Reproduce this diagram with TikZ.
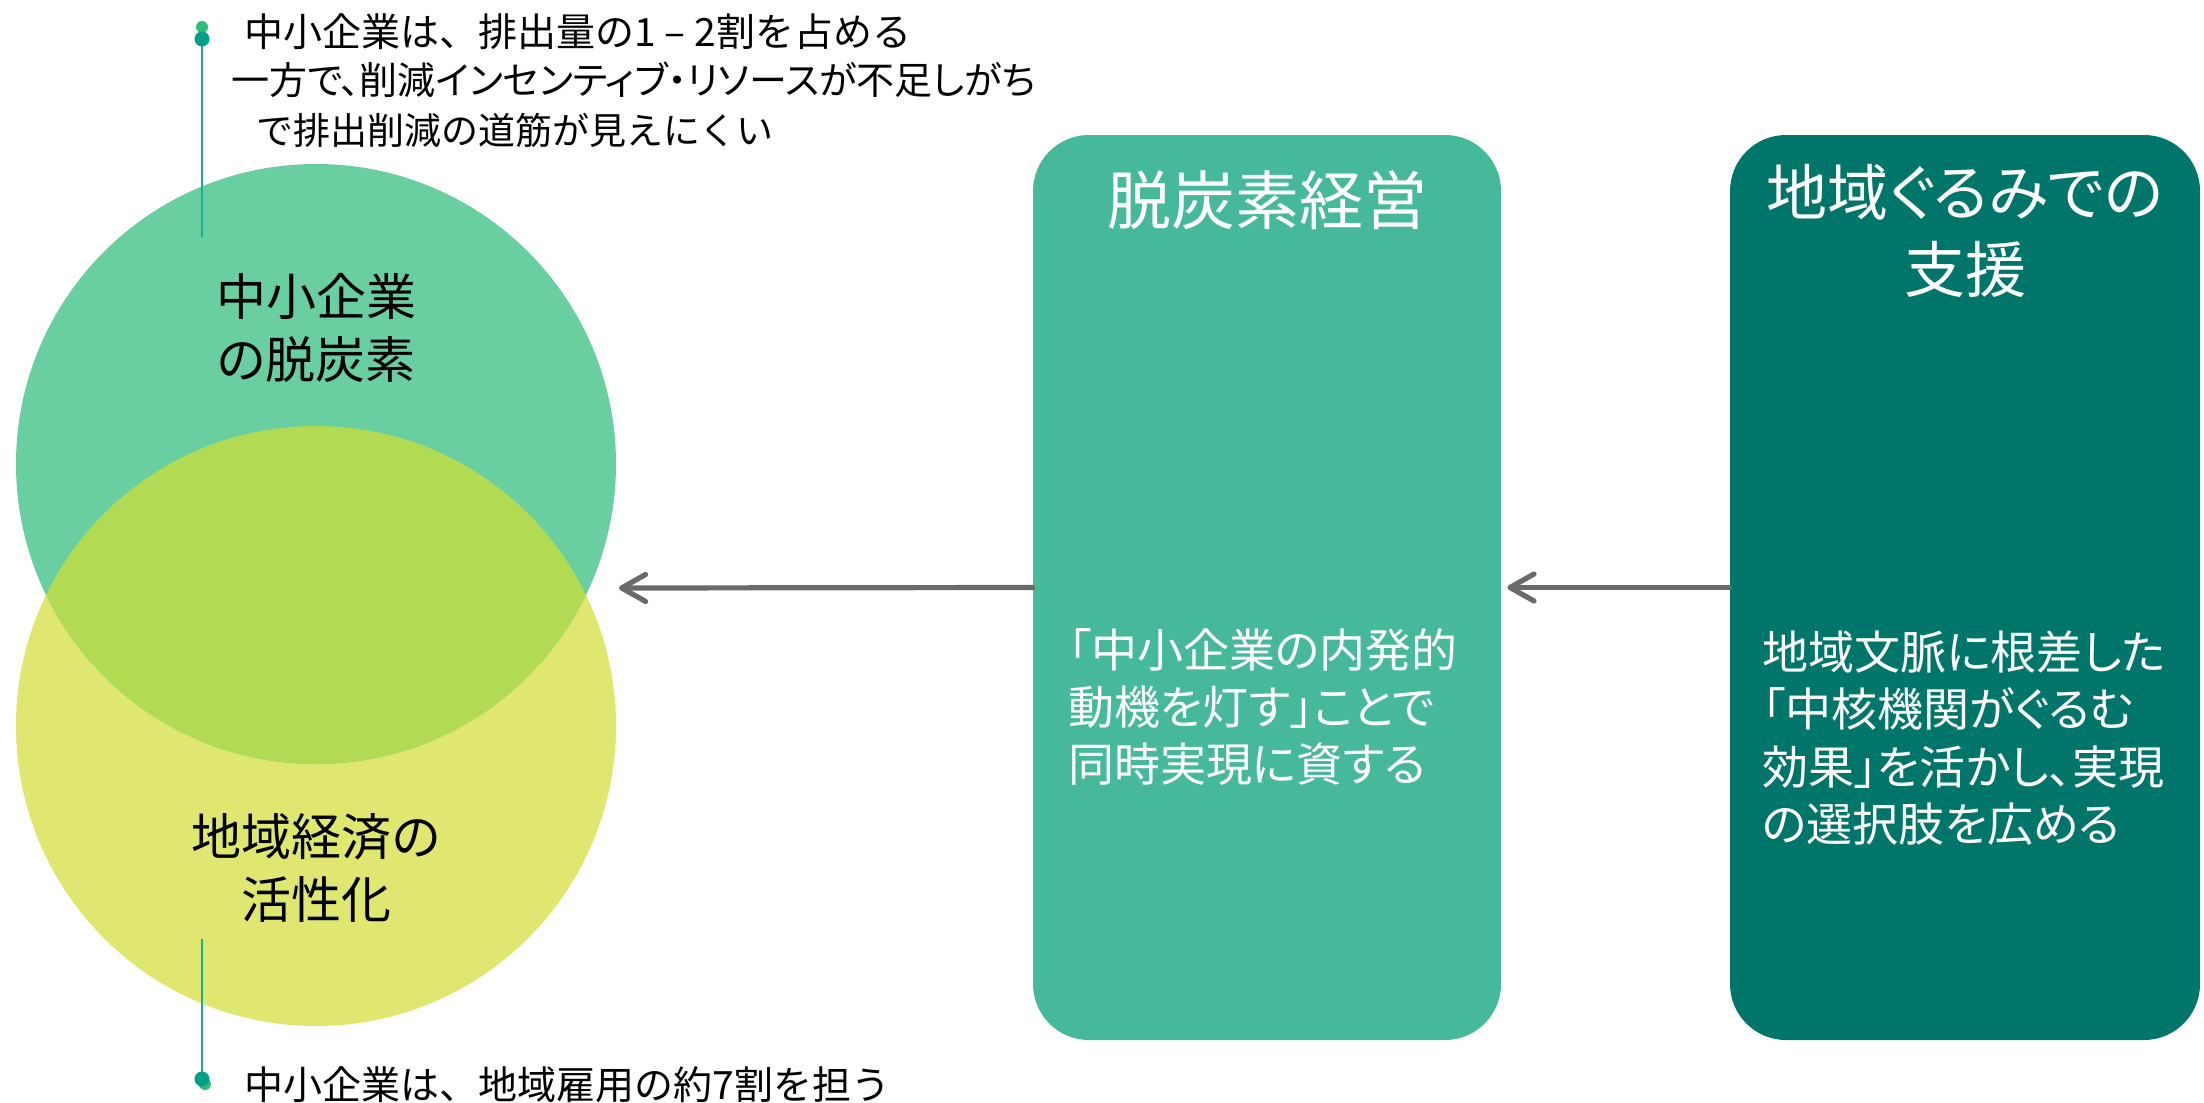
\documentclass[tikz,border=0pt]{standalone}
\usepackage{fontspec}
\setmainfont[RawFeature=+palt]{Noto Sans CJK JP}
\newfontfamily\jpn{Noto Sans CJK JP}
\usetikzlibrary{arrows.meta}
\definecolor{cgreen}{HTML}{6ACFA0}
\definecolor{cyellow}{HTML}{E0E770}
\definecolor{coverlap}{HTML}{B3DA53}
\definecolor{cboxA}{HTML}{46B99A}
\definecolor{cboxB}{HTML}{00766A}
\definecolor{carrow}{HTML}{6A6A6A}
\definecolor{cline}{HTML}{1AAE94}
\definecolor{cdotA}{HTML}{00A088}
\definecolor{cdotB}{HTML}{2DBE7A}
\tikzset{
  venncircle/.style={circle, minimum size=300pt, inner sep=0pt, draw=none},
  ctext/.style={align=center, text=black, font=\fontsize{25pt}{31.5pt}\selectfont},
  note/.style={anchor=west, text=black, inner sep=0pt, font=\jpn\fontsize{18.5pt}{24pt}\selectfont},
  notewide/.style={note, font=\jpn\fontsize{19.5pt}{24pt}\selectfont},
  notep/.style={anchor=west, text=black, inner sep=0pt, font=\fontsize{19pt}{24pt}\selectfont},
  panel/.style={rectangle, rounded corners=28pt, minimum width=234pt, minimum height=452.5pt, inner sep=0pt, draw=none},
  paneltitle/.style={align=center, text=white, font=\fontsize{32pt}{38.5pt}\selectfont},
  panelbody/.style={anchor=west, align=left, text=white, inner sep=0pt, font=\fontsize{23pt}{28.7pt}\selectfont},
  leader/.style={draw=cline, line width=1.2pt},
  conn/.style={draw=carrow, line width=2.6pt, line cap=round, -{Straight Barb[length=12pt,width=13.5pt,round]}},
}
\begin{document}
\begin{tikzpicture}[x=0.5pt,y=-0.5pt]
\useasboundingbox (0,0) rectangle (2204,1102);
\fill[white] (0,0) rectangle (2204,1102);
% Venn circles
\node[venncircle, fill=cyellow] (cy) at (316,726) {};
\node[venncircle, fill=cgreen] (cg) at (316,464) {};
\begin{scope}
  \clip (316,464) circle[radius=300];
  \fill[coverlap] (316,726) circle[radius=300];
\end{scope}
\node[ctext] (tg) at (316,328) {中小企業\\の脱炭素};
\node[ctext] (ty) at (316,868) {地域経済の\\活性化};
% leader lines
\coordinate (d1) at (202,39);
\coordinate (l1) at (202,237);
\draw[leader] (d1) -- (l1);
\fill[cdotB] (202,27) circle[radius=6];
\fill[cdotA] (d1) circle[radius=7.5];
\coordinate (l2) at (202,939);
\coordinate (d2) at (202,1079);
\draw[leader] (l2) -- (d2);
\fill[cdotB] (205,1084) circle[radius=6];
\fill[cdotA] (d2) circle[radius=7.5];
% notes
\node[notewide] (n1) at (244,32) {中小企業は、排出量の1 – 2割を占める};
\node[notep] (n2) at (231,80) {一方で、削減インセンティブ・リソースが不足しがち};
\node[note] (n3) at (256,130) {で排出削減の道筋が見えにくい};
\node[notewide] (n4) at (244,1085) {中小企業は、地域雇用の約7割を担う};
% panels
\node[panel, fill=cboxA] (box1) at (1267,587.5) {};
\node[panel, fill=cboxB, minimum width=235pt] (box2) at (1965,587.5) {};
\node[paneltitle] (t1) at (1267,200) {脱炭素経営};
\node[paneltitle, font=\fontsize{30.5pt}{38.5pt}\selectfont] (t2) at (1965,231) {地域ぐるみでの\\支援};
\node[panelbody] (b1) at (1068,707) {「中小企業の内発的\\動機を灯す」ことで\\同時実現に資する};
\node[panelbody] (b2) at (1762,738) {地域文脈に根差した\\「中核機関がぐるむ\\効果」を活かし、実現\\の選択肢を広める};
% connectors
\coordinate (venn) at (619,588);
\draw[conn] (box1.west) -- (venn);
\draw[conn] (box2.west) -- ([xshift=3pt]box1.east);
\end{tikzpicture}
\end{document}
